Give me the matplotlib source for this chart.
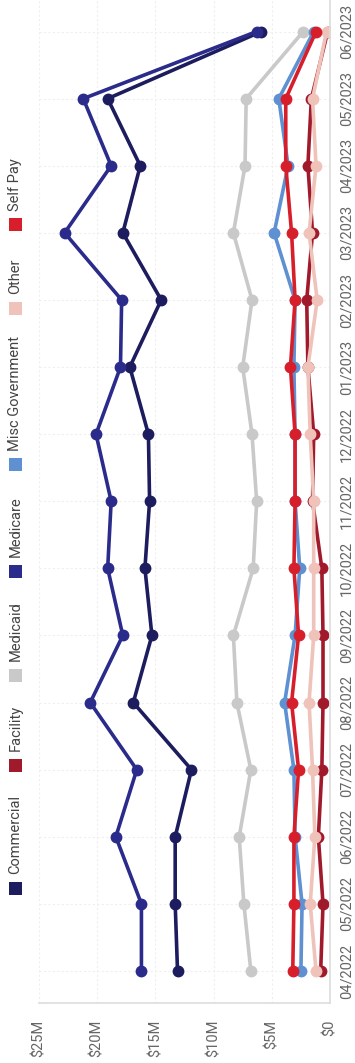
import numpy as np
import matplotlib.pyplot as plt
from matplotlib.patches import Rectangle

plt.rcParams['font.family'] = ['Roboto', 'DejaVu Sans']

months = ['04/2022', '05/2022', '06/2022', '07/2022', '08/2022', '09/2022',
          '10/2022', '11/2022', '12/2022', '01/2023', '02/2023', '03/2023',
          '04/2023', '05/2023', '06/2023']

# monthly totals, $M
commercial = [13.1, 13.3, 13.3, 11.9, 16.9, 15.3, 15.9, 15.5, 15.6, 17.2, 14.5, 17.8, 16.3, 19.1, 5.9]
facility = [0.8, 0.6, 1.0, 0.7, 0.6, 0.6, 0.7, 1.5, 1.4, 1.9, 2.0, 1.5, 1.9, 1.6, 0.2]
medicaid = [6.8, 7.4, 7.8, 6.8, 8.0, 8.3, 6.6, 6.3, 6.7, 7.5, 6.7, 8.3, 7.3, 7.2, 2.3]
medicare = [16.2, 16.2, 18.4, 16.6, 20.6, 17.8, 19.1, 18.8, 20.1, 18.0, 17.9, 22.8, 18.8, 21.2, 6.3]
misc_gov = [2.5, 2.4, 3.0, 3.1, 3.9, 3.0, 2.6, 3.0, 3.0, 3.1, 3.0, 4.8, 3.6, 4.4, 1.4]
other = [1.2, 1.7, 1.3, 1.5, 1.8, 1.4, 1.4, 1.4, 1.7, 1.9, 1.1, 1.8, 1.2, 1.5, 0.3]
self_pay = [3.2, 3.1, 3.1, 2.7, 3.3, 2.7, 3.1, 3.0, 3.0, 3.4, 3.0, 3.3, 3.8, 3.8, 1.2]

series = [
    ('Commercial', commercial, '#1c1c5e'),
    ('Facility', facility, '#a11a2c'),
    ('Medicaid', medicaid, '#c9c9c9'),
    ('Medicare', medicare, '#2b2b8c'),
    ('Misc Government', misc_gov, '#5e90d2'),
    ('Other', other, '#efc3ba'),
    ('Self Pay', self_pay, '#d61f2b'),
]
value_ticks = [0, 5, 10, 15, 20, 25]

W, H = 355, 1063
fig = plt.figure(figsize=(W / 100, H / 100), dpi=100)
ax = fig.add_axes([39 / W, 1 - 1003 / H, (330 - 39) / W, 1003 / H])

# the chart is turned on its side: dates run up the right edge, values run right-to-left
y = np.arange(len(months))
for name, vals, color in series:
    ax.plot(vals, y, color=color, lw=2.6, marker='o', ms=7.5, solid_capstyle='round')

ax.set_xlim(25, 0)
ax.set_ylim(-0.477, 14.47)
ax.set_xticks(value_ticks)
ax.set_xticklabels(['$0' if v == 0 else f'${v}M' for v in value_ticks],
                   rotation=90, fontsize=10.5, color='#666666')
ax.set_yticks(y)
ax.set_yticklabels(months, rotation=90, va='center', fontsize=10.5, color='#666666')
ax.yaxis.tick_right()
ax.tick_params(axis='x', length=0, pad=12)
ax.tick_params(axis='y', length=0, pad=7)

ax.grid(True, color='#efefef', lw=0.8, ls=(0, (2, 2)))
ax.set_axisbelow(True)
for side in ['top', 'left']:
    ax.spines[side].set_visible(False)
for side in ['bottom', 'right']:
    ax.spines[side].set_color('#dddddd')
    ax.spines[side].set_linewidth(1.2)

# legend down the left edge, read bottom to top
legend_pos = [888, 765, 675, 571, 465, 308, 225]
for (name, vals, color), yc in zip(series, legend_pos):
    fig.add_artist(Rectangle((9 / W, 1 - (yc + 6.5) / H), 13 / W, 13 / H,
                             transform=fig.transFigure, color=color, lw=0))
    fig.text(15.5 / W, 1 - (yc - 14) / H, name, rotation=90, ha='center', va='bottom',
             fontsize=10.5, color='#444444')

fig.savefig('out.png', dpi=100)
